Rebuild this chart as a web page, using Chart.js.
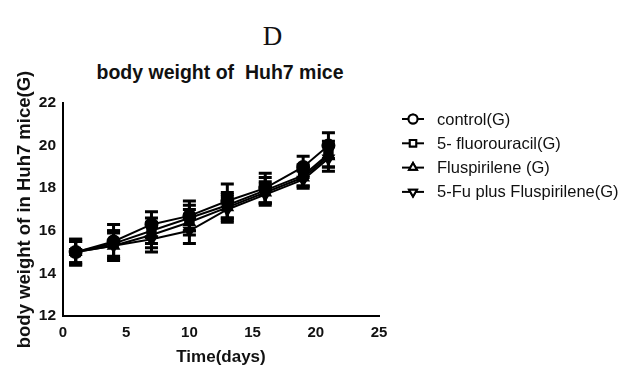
<!DOCTYPE html>
<html>
<head>
<meta charset="utf-8">
<script src="https://cdn.jsdelivr.net/npm/chart.js@4/dist/chart.umd.min.js"></script>
<style>
  html, body { margin: 0; padding: 0; background: #fff; }
  #wrap { position: relative; width: 626px; height: 368px; }
  #panel { position: absolute; left: 0; top: 21px; width: 545px; text-align: center;
           font-family: "Liberation Serif", "DejaVu Serif", serif; font-size: 27px; color: #111; }
  #title { position: absolute; left: 0; top: 61px; width: 440px; text-align: center;
           font-family: "Liberation Sans", Arial, sans-serif; font-weight: bold; font-size: 19.5px; color: #111; white-space: pre; }
  canvas { position: absolute; left: 0; top: 0; }
</style>
</head>
<body>
<div id="wrap">
  <div id="panel">D</div>
  <div id="title">body weight of  Huh7 mice</div>
  <canvas id="c" width="626" height="368"></canvas>
</div>
<script>
// Measurement days
const days = [1, 4, 7, 10, 13, 16, 19, 21];

// Mean body weight (g) per group
const controlMean = [15.0, 15.5, 16.3, 16.7, 17.4, 18.0, 19.0, 20.0];
const fuMean      = [15.0, 15.4, 16.0, 16.6, 17.2, 17.9, 18.6, 19.6];
const flusMean    = [15.0, 15.3, 15.8, 16.4, 17.1, 17.8, 18.5, 19.5];
const comboMean   = [15.0, 15.3, 15.6, 16.0, 17.0, 17.7, 18.4, 19.4];

// Standard deviation (g) per group
const controlSd = [0.6, 0.8, 0.6, 0.7, 0.8, 0.7, 0.5, 0.6];
const fuSd      = [0.5, 0.6, 0.6, 0.6, 0.6, 0.6, 0.5, 0.6];
const flusSd    = [0.5, 0.6, 0.6, 0.6, 0.6, 0.5, 0.4, 0.5];
const comboSd   = [0.6, 0.7, 0.6, 0.6, 0.6, 0.5, 0.4, 0.6];

const groupNames = ['control(G)', '5- fluorouracil(G)', 'Fluspirilene (G)', '5-Fu plus Fluspirilene(G)'];
const xTicks = [0, 5, 10, 15, 20, 25];
const yTicks = [12, 14, 16, 18, 20, 22];

const styles = [
  { pointStyle: 'circle', rotation: 0 },
  { pointStyle: 'rect', rotation: 0 },
  { pointStyle: 'triangle', rotation: 0 },
  { pointStyle: 'triangle', rotation: 180 }
];
const means = [controlMean, fuMean, flusMean, comboMean];
const sds = [controlSd, fuSd, flusSd, comboSd];

const FONT = '"Liberation Sans", Arial, sans-serif';

const datasets = means.map((m, i) => ({
  label: groupNames[i],
  data: days.map((d, j) => ({ x: d, y: m[j] })),
  sd: sds[i],
  borderColor: '#000',
  backgroundColor: '#000',
  borderWidth: 2,
  pointStyle: styles[i].pointStyle,
  rotation: styles[i].rotation,
  pointRadius: 6,
  pointBorderWidth: 2,
  pointBackgroundColor: '#000',
  tension: 0
}));

// Vertical error bars with caps, drawn from mean ± SD through the y scale
const errorBars = {
  id: 'errorBars',
  afterDatasetsDraw(chart) {
    const ctx = chart.ctx;
    const xs = chart.scales.x, ys = chart.scales.y;
    ctx.save();
    ctx.strokeStyle = '#000';
    ctx.lineWidth = 3;
    chart.data.datasets.forEach(ds => {
      ds.data.forEach((p, j) => {
        const px = xs.getPixelForValue(p.x);
        const top = ys.getPixelForValue(p.y + ds.sd[j]);
        const bot = ys.getPixelForValue(p.y - ds.sd[j]);
        ctx.beginPath();
        ctx.moveTo(px, top); ctx.lineTo(px, bot);
        ctx.moveTo(px - 6.5, top); ctx.lineTo(px + 6.5, top);
        ctx.moveTo(px - 6.5, bot); ctx.lineTo(px + 6.5, bot);
        ctx.stroke();
      });
    });
    ctx.restore();
  }
};

// Legend: short line with open marker, then group name
const sideLegend = {
  id: 'sideLegend',
  afterDraw(chart) {
    const ctx = chart.ctx;
    ctx.save();
    const x0 = 402, x1 = 424, tx = 437;
    chart.data.datasets.forEach((ds, i) => {
      const y = 119 + i * 24.3;
      ctx.strokeStyle = '#000';
      ctx.lineWidth = 2;
      ctx.beginPath(); ctx.moveTo(x0, y); ctx.lineTo(x1, y); ctx.stroke();
      const cx = (x0 + x1) / 2;
      Chart.helpers.drawPoint(ctx, {
        pointStyle: styles[i].pointStyle, rotation: styles[i].rotation,
        radius: 4.5, borderWidth: 2
      }, cx, y);
      ctx.fillStyle = '#fff';
      ctx.fill();
      ctx.stroke();
      ctx.fillStyle = '#111';
      ctx.font = '16.5px ' + FONT;
      ctx.textBaseline = 'middle';
      ctx.fillText(ds.label, tx, y + 1);
    });
    ctx.restore();
  }
};

new Chart(document.getElementById('c'), {
  type: 'line',
  data: { datasets },
  plugins: [errorBars, sideLegend],
  options: {
    responsive: false,
    animation: false,
    layout: { padding: { top: 103, right: 247, left: 14, bottom: 0 } },
    plugins: { legend: { display: false }, tooltip: { enabled: false } },
    scales: {
      x: {
        type: 'linear', min: 0, max: 25,
        afterBuildTicks: s => { s.ticks = xTicks.map(v => ({ value: v })); },
        afterFit: s => { s.height = 52; },
        grid: { display: false, drawOnChartArea: false, tickLength: 6, tickColor: '#000', tickWidth: 2 },
        border: { color: '#000', width: 2 },
        ticks: { color: '#111', font: { family: FONT, size: 15, weight: 'bold' }, padding: 2, maxRotation: 0 },
        title: { display: true, text: 'Time(days)', color: '#111', padding: { top: 2, bottom: 0 },
                 font: { family: FONT, size: 17, weight: 'bold' } }
      },
      y: {
        type: 'linear', min: 12, max: 22,
        afterBuildTicks: s => { s.ticks = yTicks.map(v => ({ value: v })); },
        afterFit: s => { s.width = 49; },
        grid: { display: false, drawOnChartArea: false, tickLength: 6, tickColor: '#000', tickWidth: 2 },
        border: { color: '#000', width: 2 },
        ticks: { color: '#111', font: { family: FONT, size: 15.5, weight: 'bold' }, padding: 1 },
        title: { display: true, text: 'body weight of in Huh7 mice(G)', color: '#111', padding: { top: 0, bottom: 0 },
                 font: { family: FONT, size: 18.5, weight: 'bold' } }
      }
    }
  }
});
</script>
</body>
</html>
